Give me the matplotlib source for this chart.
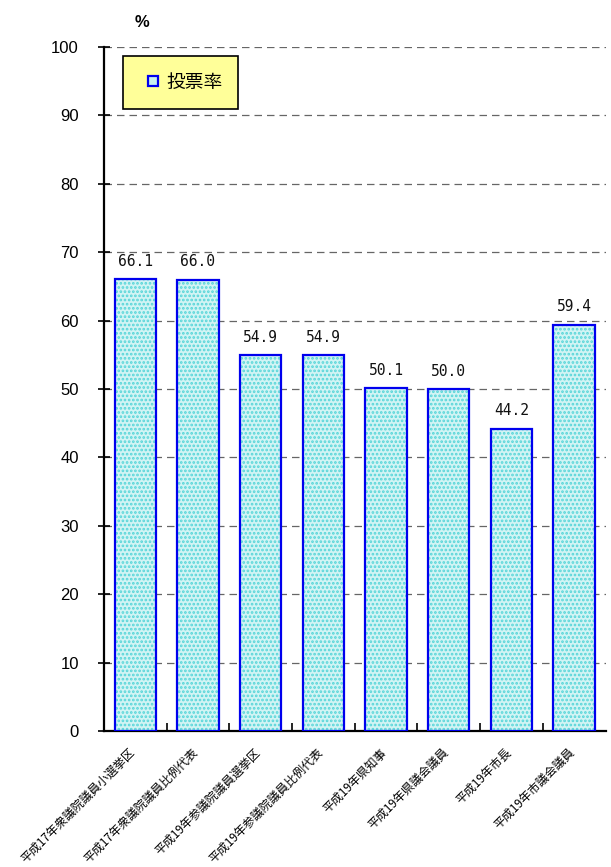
import matplotlib
matplotlib.use("Agg")
import matplotlib.pyplot as plt
from matplotlib.lines import Line2D

categories = ["平成17年衆議院議員小選挙区", "平成17年衆議院議員比例代表",
              "平成19年参議院議員選挙区", "平成19年参議院議員比例代表",
              "平成19年県知事", "平成19年県議会議員", "平成19年市長", "平成19年市議会議員"]
values = [66.1, 66.0, 54.9, 54.9, 50.1, 50.0, 44.2, 59.4]
yticks = [0, 10, 20, 30, 40, 50, 60, 70, 80, 90, 100]
series_name = "投票率"

JP = ["Noto Sans CJK JP", "DejaVu Sans"]
plt.rcParams['hatch.linewidth'] = 1.3

fig = plt.figure(figsize=(6.11, 8.67), dpi=100)
ax = fig.add_axes([0.170, 0.1569, 0.821, 0.7889])

x = list(range(len(values)))
ax.bar(x, values, width=0.66, color="#d2f4f4", edgecolor="#55d5d8",
       hatch="....", linewidth=0, zorder=3)
ax.bar(x, values, width=0.66, facecolor="none", edgecolor="#0000ee",
       linewidth=1.6, zorder=4)

for xi, v in zip(x, values):
    ax.text(xi, v + 1.5, f"{v:.1f}", ha="center", va="bottom",
            fontsize=10.5, family=["DejaVu Sans Mono"], color="#111111")

ax.set_xlim(-0.5, len(values) - 0.5)
ax.set_ylim(0, 100)
ax.set_yticks(yticks)
ax.set_yticklabels([str(t) for t in yticks], family=["Liberation Sans"], fontsize=12)
for t in yticks[1:]:
    ax.axhline(t, color="#666666", linestyle=(0, (6, 4)), linewidth=0.9, zorder=1)

ax.set_xticks([i + 0.5 for i in range(len(values) - 1)] + [-0.5])
ax.set_xticklabels([])
ax.tick_params(axis="x", direction="in", length=6, width=1.2)
ax.tick_params(axis="y", direction="inout", length=8, width=1.2, pad=14)
for i, c in enumerate(categories):
    ax.text(i - 0.1, -2.2, c, rotation=45, rotation_mode="anchor",
            ha="right", va="top", fontsize=8.6, family=JP)

ax.spines["top"].set_visible(False)
ax.spines["right"].set_visible(False)
ax.spines["left"].set_linewidth(1.6)
ax.spines["bottom"].set_linewidth(1.6)

ax.text(0.076, 1.025, "%", transform=ax.transAxes, fontsize=12,
        family=["Liberation Sans"], fontweight="bold", ha="center", va="bottom")

handle = Line2D([], [], linestyle="none", marker="s", markersize=7,
                markerfacecolor="#c8f0f0", markeredgecolor="#0000ee",
                markeredgewidth=1.6)
leg = ax.legend([handle], [series_name], loc="upper left",
                bbox_to_anchor=(0.038, 0.987), prop={"family": JP, "size": 13.5},
                frameon=True, fancybox=False, borderpad=0.85,
                handlelength=1.55, handletextpad=-0.1,
                borderaxespad=0)
leg.get_frame().set_facecolor("#ffff99")
leg.get_frame().set_edgecolor("#000000")
leg.get_frame().set_linewidth(1.2)
leg.get_frame().set_alpha(1)
leg.set_zorder(6)

fig.savefig("out.png", dpi=100)
